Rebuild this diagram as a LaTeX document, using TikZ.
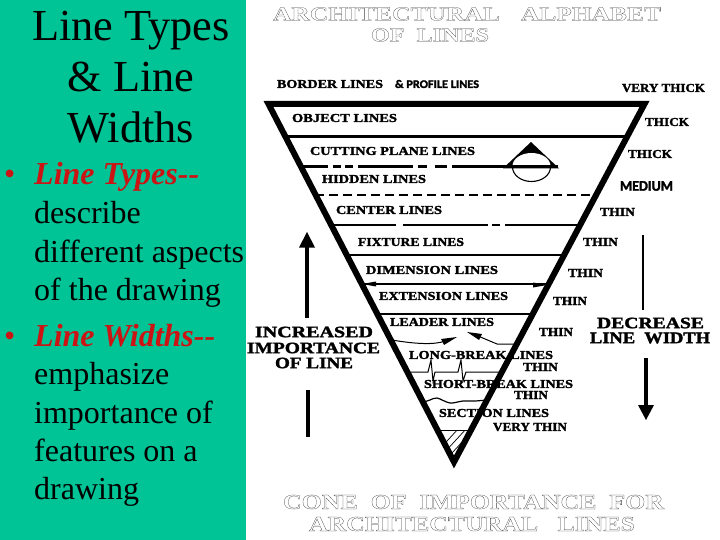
\documentclass[tikz,border=0pt]{standalone}
\usepackage{fontspec}
\usepackage{graphicx}
\setmainfont{Liberation Serif}
\newfontfamily\capb{Liberation Serif Bold}
\newfontfamily\sansb{Carlito Bold}
\definecolor{panel}{RGB}{0,195,150}
\definecolor{redtext}{RGB}{205,20,20}
\definecolor{outlinecol}{RGB}{70,70,70}
\newcommand{\lab}[6]{\pgfmathsetmacro{\cx}{(#2+#3)/2}%
 \node[inner sep=0pt] (#1) at (\cx,#4) {\resizebox{\dimexpr #3pt-#2pt\relax}{#5pt}{\capb\special{pdf:code 2 Tr 0.18 w}#6\special{pdf:code 0 Tr}}};}
\newcommand{\outl}[6]{\pgfmathsetmacro{\cx}{(#2+#3)/2}%
 \node[inner sep=0pt,text=outlinecol] (#1) at (\cx,#4) {\resizebox{\dimexpr #3pt-#2pt\relax}{#5pt}{\capb\special{pdf:code 1 Tr 0.1 w 0.25 G}#6\special{pdf:code 0 Tr}}};}
\newcommand{\sanslab}[6]{\pgfmathsetmacro{\cx}{(#2+#3)/2}%
 \node[inner sep=0pt] (#1) at (\cx,#4) {\resizebox{\dimexpr #3pt-#2pt\relax}{#5pt}{\sansb\special{pdf:code 2 Tr 0.2 w}#6\special{pdf:code 0 Tr}}};}
\tikzset{
 titletext/.style={anchor=base,font=\fontsize{44.3pt}{48pt}\selectfont,inner sep=0pt},
 bodytext/.style={anchor=base west,font=\fontsize{32pt}{38pt}\selectfont,inner sep=0pt},
 redline/.style={bodytext,text=redtext,font=\fontsize{32pt}{38pt}\selectfont\bfseries\itshape},
 cone/.style={line width=6pt,miter limit=10},
 head/.style={fill=black,draw=none}
}
\begin{document}
\begin{tikzpicture}[x=1pt,y=-1pt]
\useasboundingbox (0,0) rectangle (720,540);
\fill[white] (0,0) rectangle (720,540);
\fill[panel] (0,0) rectangle (246,540);
% left panel
\node[titletext] (t1) at (131,41) {Line Types};
\node[titletext] (t2) at (131,92) {\& Line};
\node[titletext] (t3) at (131,143) {Widths};
\node[bodytext,text=redtext] (b0) at (4,185) {•};
\node[redline] (b1) at (34,185) {Line Types{-}{-}};
\node[bodytext] (b2) at (34,223) {describe};
\node[bodytext] (b3) at (34,262) {different aspects};
\node[bodytext] (b4) at (34,300) {of the drawing};
\node[bodytext,text=redtext] (b5) at (4,346) {•};
\node[redline] (b6) at (34,346) {Line Widths{-}{-}};
\node[bodytext] (b7) at (34,384) {emphasize};
\node[bodytext] (b8) at (34,423) {importance of};
\node[bodytext] (b9) at (34,461) {features on a};
\node[bodytext] (b10) at (34,499) {drawing};
% headings
\outl{h1}{273}{500}{14}{13}{ARCHITECTURAL}
\outl{h2}{521}{661}{14}{13}{ALPHABET}
\outl{h3}{371}{489}{35}{13}{OF\ \ LINES}
\outl{h4}{283}{664}{502}{14}{CONE\ \ OF\ \ IMPORTANCE\ \ FOR}
\outl{h5}{309}{635}{524}{14}{ARCHITECTURAL\ \ \ LINES}
% labels
\lab{l1}{277}{383}{84}{8}{BORDER LINES}
\sanslab{l2}{395}{479}{84}{8}{\& PROFILE LINES}
\lab{l3}{622}{705}{88}{8}{VERY THICK}
\lab{l4}{292}{397}{118}{8}{OBJECT LINES}
\lab{l5}{645}{689}{122}{8}{THICK}
\lab{l6}{310}{475}{151}{8}{CUTTING PLANE LINES}
\lab{l7}{628}{672}{154}{8}{THICK}
\lab{l8}{322}{426}{179}{8}{HIDDEN LINES}
\sanslab{l9}{620}{673}{186}{9.5}{MEDIUM}
\lab{l10}{336}{442}{210}{8}{CENTER LINES}
\lab{l11}{600}{635}{212}{8}{THIN}
\lab{l12}{358}{464}{242}{8}{FIXTURE LINES}
\lab{l13}{583}{618}{242}{8}{THIN}
\lab{l14}{366}{498}{270}{8}{DIMENSION LINES}
\lab{l15}{568}{603}{273}{8}{THIN}
\lab{l16}{379}{508}{296}{8}{EXTENSION LINES}
\lab{l17}{553}{587}{301}{8}{THIN}
\lab{l18}{390}{494}{322}{8}{LEADER LINES}
\lab{l19}{539}{573}{332}{8}{THIN}
\lab{l20}{409}{553}{355}{8}{LONG-BREAK LINES}
\lab{l21}{523}{558}{367}{8}{THIN}
\lab{l22}{424}{573}{384}{8}{SHORT-BREAK LINES}
\lab{l23}{514}{548}{395}{8}{THIN}
\lab{l24}{439}{549}{413}{8}{SECTION LINES}
\lab{l25}{493}{567}{427}{8}{VERY THIN}
\lab{l26}{255}{373}{332}{10.5}{INCREASED}
\lab{l27}{247}{380}{348}{10.5}{IMPORTANCE}
\lab{l28}{275}{353}{363}{10.5}{OF\ LINE}
\lab{l29}{597}{704}{323}{10.5}{DECREASE}
\lab{l30}{590}{710}{338}{10.5}{LINE\ \ WIDTH}
% interior lines of the cone
\draw[line width=3.2pt] (285,136.7) -- (625,136.7);
\draw[line width=3.6pt] (300,166.5) -- (328,166.5) (333,166.5) -- (341,166.5) (345,166.5) -- (353,166.5) (358,166.5) -- (413,166.5) (418,166.5) -- (427,166.5) (435,166.5) -- (447,166.5) (452,166.5) -- (510,166.5);
\fill[black] (531,142) -- (559,168.4) -- (503,168.4) -- cycle;
\fill[white] (512.5,166) arc[start angle=180,end angle=360,x radius=19,y radius=13] -- cycle;
\draw[line width=3.6pt] (503,166.5) -- (558,166.5);
\draw[line width=1.1pt] (512.5,167) arc[start angle=180,end angle=0,x radius=19,y radius=14.5];
\draw[line width=2pt,dash pattern=on 9pt off 5pt] (315,195) -- (595,195);
\draw[line width=1.6pt] (330,225) -- (396,225) (403,225) -- (488,225) (492,225) -- (500,225) (505,225) -- (580,225);
\draw[line width=1.3pt] (347,255) -- (563,255);
\draw[line width=1.2pt] (362,284) -- (547,284);
\fill[black] (362,284) -- (376,281.5) -- (376,286.5) -- cycle;
\fill[black] (547,285) -- (533,282.5) -- (533,287.5) -- cycle;
\draw[line width=1.3pt] (378,314) -- (530,314);
\draw[line width=1pt] (392,340) .. controls (415,344) and (435,345) .. (445,341);
\fill[black] (457,337) -- (441,339) -- (444,345) -- cycle;
\draw[line width=1pt] (517,344) -- (497,344) -- (478,336);
\fill[black] (467,332) -- (482,334) -- (479,340) -- cycle;
\draw[line width=1pt] (407,372) -- (428,372) -- (431,360) -- (433,381) -- (435,372) -- (458,372) -- (461,360) -- (463,381) -- (466,372) -- (502,372);
\draw[line width=1.2pt] plot[smooth] coordinates {(424,402) (430,400) (437,398) (450,403) (463,401) (475,401) (487,400)};
\draw[line width=1.2pt] (438,430.5) -- (471,430.5);
\begin{scope}
\clip (438,430.5) -- (471,430.5) -- (454,466) -- cycle;
\foreach \d in {0,8,...,56} {\draw[line width=0.7pt] (424+\d,466) -- (459+\d,428);}
\end{scope}
% cone outline above the labels
\draw[cone] (268.5,104) -- (644.5,104) -- (454,462) -- cycle;
% side arrows
\draw[line width=3.5pt] (307,318) -- (307,246);
\fill[head] (307,232) -- (315,247.5) -- (299,247.5) -- cycle;
\draw[line width=4pt] (308,390) -- (308,437);
\draw[line width=2pt] (643,235) -- (643,310);
\draw[line width=4pt] (646,358) -- (646,406);
\fill[head] (646,420) -- (638,405) -- (654,405) -- cycle;
\end{tikzpicture}
\end{document}
